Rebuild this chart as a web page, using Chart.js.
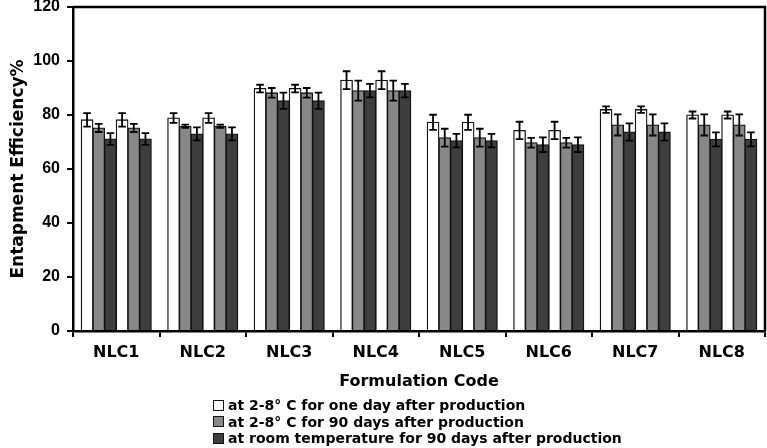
<!DOCTYPE html>
<html>
<head>
<meta charset="utf-8">
<script src="https://cdn.jsdelivr.net/npm/chart.js@4.4.0/dist/chart.umd.min.js"></script>
<style>
  html, body { margin: 0; padding: 0; background: #fff; }
  #wrap { position: relative; width: 767px; height: 448px; }
  #legend { position: absolute; left: 213px; top: 397px; font: bold 14px "DejaVu Sans", sans-serif; color: #000; }
  #legend .row { height: 16.5px; line-height: 16.5px; white-space: nowrap; display: flex; align-items: center; }
  #legend .box { width: 9px; height: 9px; border: 1.3px solid #111; margin-right: 4px; display: inline-block; }
</style>
</head>
<body>
<div id="wrap">
  <canvas id="c" width="767" height="448"></canvas>
  <div id="legend"></div>
</div>
<script>
const categories = ["NLC1", "NLC2", "NLC3", "NLC4", "NLC5", "NLC6", "NLC7", "NLC8"];
const seriesLabels = [
  "at 2-8\u00b0 C for one day after production",
  "at 2-8\u00b0 C for 90 days after production",
  "at room temperature for 90 days after production"
];
const oneDay      = [78.2, 78.9, 89.8, 92.9, 77.3, 74.3, 82.0, 80.0];
const cold90      = [75.2, 75.8, 88.2, 89.0, 71.6, 69.7, 76.3, 76.3];
const room90      = [71.1, 73.0, 85.3, 89.0, 70.5, 69.0, 73.7, 71.0];
const oneDayErr   = [2.5, 1.8, 1.4, 3.3, 2.8, 3.2, 1.2, 1.3];
const cold90Err   = [1.5, 0.6, 1.8, 3.7, 3.3, 1.8, 3.9, 3.9];
const room90Err   = [2.2, 2.4, 3.0, 2.5, 2.5, 2.7, 3.2, 2.6];
const yTicks      = [0, 20, 40, 60, 80, 100, 120];

const colors = ["#ffffff", "#888888", "#3e3e3e"];
const values = [oneDay, cold90, room90];
const errors = [oneDayErr, cold90Err, room90Err];

const datasets = [];
for (let rep = 0; rep < 2; rep++) {
  for (let k = 0; k < 3; k++) {
    datasets.push({
      label: seriesLabels[k],
      data: values[k],
      errors: errors[k],
      backgroundColor: colors[k],
      borderColor: "#111",
      borderWidth: 1.3,
      inflateAmount: 0.5,
      barPercentage: 1.0,
      categoryPercentage: 0.81
    });
  }
}

// HTML legend built from the series labels
const leg = document.getElementById("legend");
seriesLabels.forEach((t, k) => {
  const r = document.createElement("div");
  r.className = "row";
  const b = document.createElement("span");
  b.className = "box";
  b.style.background = colors[k];
  r.appendChild(b);
  r.appendChild(document.createTextNode(t));
  leg.appendChild(r);
});

const errorBars = {
  id: "errorBars",
  afterDatasetsDraw(chart) {
    const ctx = chart.ctx;
    const y = chart.scales.y;
    ctx.save();
    ctx.strokeStyle = "#000";
    ctx.lineWidth = 1.8;
    chart.data.datasets.forEach((ds, i) => {
      const meta = chart.getDatasetMeta(i);
      meta.data.forEach((el, j) => {
        const v = ds.data[j], e = ds.errors[j];
        const x = el.x;
        const yt = y.getPixelForValue(v + e);
        const yb = y.getPixelForValue(v - e);
        const hw = 3.8;
        ctx.beginPath();
        ctx.moveTo(x, yt); ctx.lineTo(x, yb);
        ctx.moveTo(x - hw, yt); ctx.lineTo(x + hw, yt);
        ctx.moveTo(x - hw, yb); ctx.lineTo(x + hw, yb);
        ctx.stroke();
      });
    });
    ctx.restore();
  }
};

const frame = {
  id: "frame",
  afterDraw(chart) {
    const a = chart.chartArea;
    const ctx = chart.ctx;
    ctx.save();
    ctx.strokeStyle = "#000";
    ctx.lineWidth = 2.5;
    ctx.beginPath();
    ctx.moveTo(a.left, a.top);
    ctx.lineTo(a.right, a.top);
    ctx.lineTo(a.right, a.bottom);
    ctx.stroke();
    ctx.restore();
  }
};

new Chart(document.getElementById("c"), {
  type: "bar",
  data: { labels: categories, datasets },
  plugins: [errorBars, frame],
  options: {
    responsive: false,
    animation: false,
    devicePixelRatio: 1,
    layout: { padding: { top: 0, right: 2, bottom: 53, left: 0 } },
    plugins: { legend: { display: false }, tooltip: { enabled: false } },
    scales: {
      x: {
        grid: { display: true, drawOnChartArea: false, offset: true, color: "#000", lineWidth: 2, tickLength: 6 },
        border: { display: true, color: "#000", width: 2.5 },
        ticks: { color: "#000", padding: 6, font: { family: "DejaVu Sans", weight: "bold", size: 16 } },
        title: { display: true, text: "Formulation Code", color: "#000", padding: { top: 6, bottom: 4 },
                 font: { family: "DejaVu Sans", weight: "bold", size: 16 } },
        afterFit(s) { s.height = 64; s.paddingLeft = 0; s.paddingRight = 0; }
      },
      y: {
        min: 0, max: 120,
        afterBuildTicks(s) { s.ticks = yTicks.map(v => ({ value: v })); },
        grid: { display: true, drawOnChartArea: false, color: "#000", lineWidth: 2, tickLength: 6 },
        border: { display: true, color: "#000", width: 2.5 },
        ticks: { color: "#000", padding: 7, font: { family: "Liberation Sans", weight: "bold", size: 16 } },
        title: { display: true, text: "Entapment Efficiency%", color: "#000", padding: { top: 8, bottom: 0 },
                 font: { family: "DejaVu Sans", weight: "bold", size: 17 } },
        afterFit(s) { s.width = 73; s.paddingTop = 7; s.paddingBottom = 0; }
      }
    }
  }
});
</script>
</body>
</html>
